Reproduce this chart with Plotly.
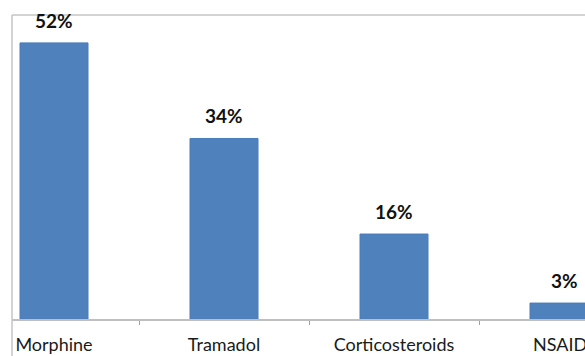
import plotly.graph_objects as go

categories = ["Morphine", "Tramadol", "Corticosteroids", "NSAIDs"]
values = [52, 34, 16, 3]
labels = ["52%", "34%", "16%", "3%"]

W, H = 585, 356
ml, mb = 12, 37
px_per_cat = 170.0
first_center = 54.0
axis_y = 319.0
px_per_pct = 5.31

x_lo = (ml - first_center) / px_per_cat
x_hi = (W - first_center) / px_per_cat
y_hi = axis_y / px_per_pct

fig = go.Figure()
fig.add_trace(go.Bar(
    x=categories, y=values, width=0.4,
    marker=dict(color="#4f81bd", line=dict(color="#4a7dba", width=1)),
    hoverinfo="skip",
))

for c, v, t in zip(categories, values, labels):
    fig.add_annotation(x=c, y=v, text="<b>%s</b>" % t, showarrow=False,
                       yanchor="bottom", yshift=9,
                       font=dict(family="Lato", size=19, color="#111111"))

plot_h = H - mb
top_line_paper = (plot_h - 15) / plot_h
bottom_paper = (plot_h - H - 5) / plot_h
fig.add_shape(type="line", xref="paper", yref="paper", x0=0, x1=(W - ml + 5) / (W - ml),
              y0=top_line_paper, y1=top_line_paper, line=dict(color="#c4c4c4", width=1.5))
fig.add_shape(type="line", xref="paper", yref="paper", x0=0, x1=0,
              y0=bottom_paper, y1=top_line_paper, line=dict(color="#c4c4c4", width=1.5))

fig.update_layout(
    width=W, height=H, margin=dict(l=ml, r=0, t=0, b=mb, autoexpand=False),
    paper_bgcolor="white", plot_bgcolor="white", showlegend=False,
    xaxis=dict(range=[x_lo, x_hi], showline=True, linecolor="#bfbfbf", linewidth=1.5,
               ticks="outside", tickson="boundaries", ticklen=4, tickcolor="#a0a0a0",
               tickfont=dict(family="Lato", size=18, color="#1a1a1a"),
               ticklabelstandoff=9, showgrid=False, zeroline=False, automargin=False),
    yaxis=dict(range=[0, y_hi], visible=False, showgrid=False, zeroline=False),
)

fig.write_html("out.html")
